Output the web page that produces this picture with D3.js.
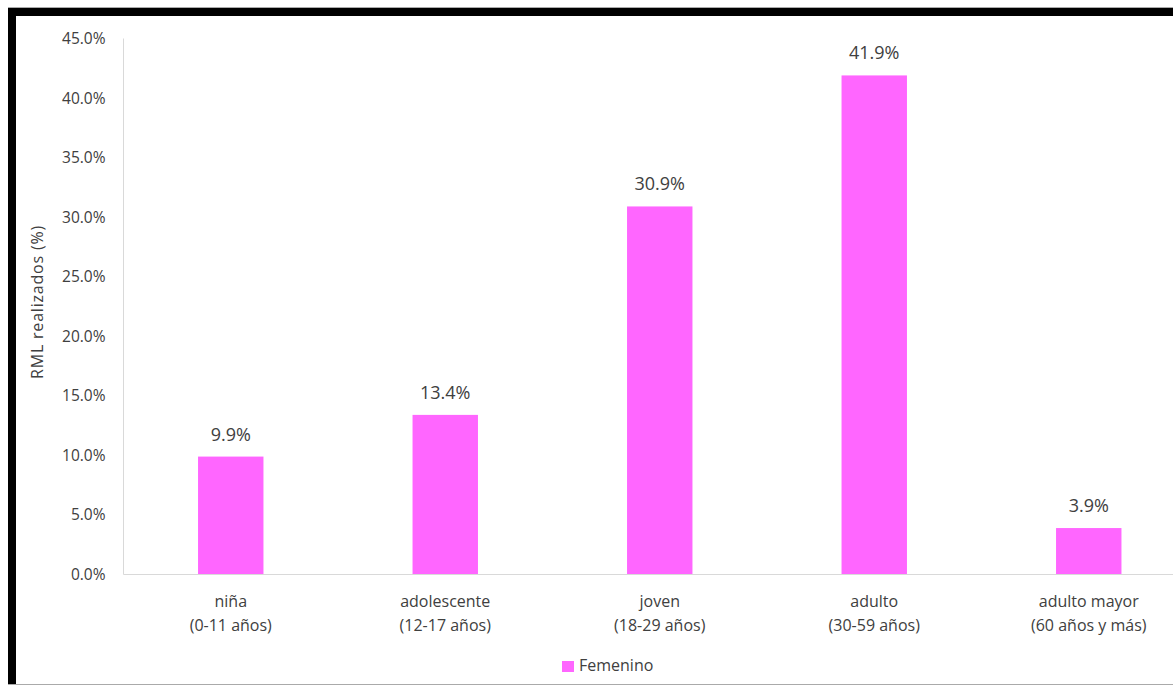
<!DOCTYPE html>
<html><head><meta charset="utf-8">
<script src="https://cdn.jsdelivr.net/npm/d3@7"></script>
<style>body{margin:0;background:#fff;} svg{display:block;font-family:"Open Sans", sans-serif;}</style>
</head><body>
<svg id="c" width="1173" height="685"></svg>
<script>
const categories = [["niña","(0-11 años)"],["adolescente","(12-17 años)"],["joven","(18-29 años)"],["adulto","(30-59 años)"],["adulto mayor","(60 años y más)"]];
const values = [9.9, 13.4, 30.9, 41.9, 3.9];
const yTicks = [0,5,10,15,20,25,30,35,40,45];
const seriesName = "Femenino";
const color = "#ff66ff";
const txt = "#404040";

const svg = d3.select("#c");
// frame
svg.append("rect").attr("x",8).attr("y",8).attr("width",1200).attr("height",8).attr("fill","#000");
svg.append("rect").attr("x",8).attr("y",8).attr("width",8).attr("height",680).attr("fill","#000");
svg.append("line").attr("x1",8).attr("x2",1173).attr("y1",7.5).attr("y2",7.5).attr("stroke","#aaa");
svg.append("line").attr("x1",8).attr("x2",1173).attr("y1",684.5).attr("y2",684.5).attr("stroke","#aaa");

const x = d3.scaleBand().domain(categories.map((d,i)=>i)).range([123.5, 1196]).paddingInner(0.695).paddingOuter(0.3475);
const y = d3.scaleLinear().domain([0,45]).range([574.5, 38.5]);

// y axis line
svg.append("line").attr("x1",123.5).attr("x2",123.5).attr("y1",y(45)).attr("y2",y(0)).attr("stroke","#d9d9d9");
// bars
svg.selectAll("rect.bar").data(values).join("rect").attr("class","bar")
  .attr("x",(d,i)=>x(i)).attr("width",x.bandwidth())
  .attr("y",d=>y(d)).attr("height",d=>y(0)-y(d)).attr("fill",color);
// baseline
svg.append("line").attr("x1",123.5).attr("x2",1173).attr("y1",y(0)).attr("y2",y(0)).attr("stroke","#d9d9d9");

// y tick labels
const yAxis = d3.axisLeft(y).tickValues(yTicks).tickFormat(d=>d.toFixed(1)+"%").tickSize(0).tickPadding(18);
const ga = svg.append("g").attr("transform","translate(123.5,0)").call(yAxis);
ga.select(".domain").remove();
ga.selectAll("text").attr("font-size",15.5).attr("fill",txt).attr("font-family","'Open Sans', sans-serif");

// value labels
svg.selectAll("text.val").data(values).join("text").attr("class","val")
  .attr("x",(d,i)=>x(i)+x.bandwidth()/2).attr("y",d=>y(d)-16)
  .attr("text-anchor","middle").attr("font-size",18).attr("fill",txt)
  .text(d=>d.toFixed(1)+"%");

// category labels
const cl = svg.selectAll("text.cat").data(categories).join("text").attr("class","cat")
  .attr("text-anchor","middle").attr("font-size",16).attr("fill",txt);
cl.append("tspan").attr("x",(d,i)=>x(i)+x.bandwidth()/2).attr("y",607).text(d=>d[0]);
cl.append("tspan").attr("x",(d,i)=>x(i)+x.bandwidth()/2).attr("y",631).text(d=>d[1]);

// y title
svg.append("text").attr("transform","translate(43,302) rotate(-90)").attr("text-anchor","middle")
  .attr("font-size",16).attr("letter-spacing",0.8).attr("fill",txt).text("RML realizados (%)");

// legend
svg.append("rect").attr("x",562).attr("y",661).attr("width",12).attr("height",11).attr("fill",color);
svg.append("text").attr("x",579).attr("y",671).attr("font-size",16).attr("fill",txt).text(seriesName);
</script>
</body></html>
